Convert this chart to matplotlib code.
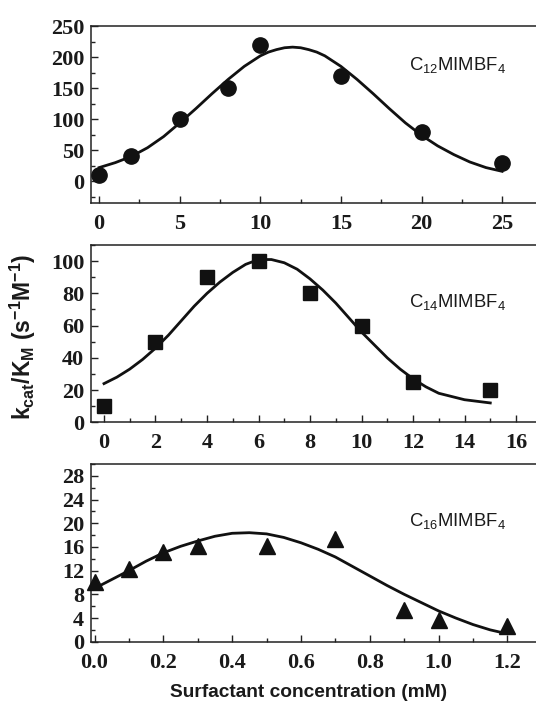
import matplotlib
matplotlib.use("Agg")
import matplotlib.pyplot as plt
from matplotlib.ticker import MultipleLocator

plt.rcParams['mathtext.fontset'] = 'custom'
plt.rcParams['mathtext.rm'] = 'Liberation Sans'
plt.rcParams['mathtext.it'] = 'Liberation Sans'
plt.rcParams['mathtext.bf'] = 'Liberation Sans:bold'

# C12MIMBF4 - measured points and fitted curve
c12_x = [0, 2, 5, 8, 10, 15, 20, 25]
c12_y = [10, 40, 100, 150, 220, 170, 80, 30]
c12_fit_x = [0, 1, 2, 3, 4, 5, 6, 7, 8, 9, 10, 10.5, 11, 11.5, 12, 12.5, 13, 13.5,
             14, 15, 16, 17, 18, 19, 20, 21, 22, 23, 24, 25]
c12_fit_y = [22, 30, 40, 54, 72, 94, 117, 141, 164, 185, 202, 208, 212, 215, 216, 215,
             212, 208, 202, 185, 164, 141, 117, 94, 74, 57, 43, 31, 22, 16]

# C14MIMBF4
c14_x = [0, 2, 4, 6, 8, 10, 12, 15]
c14_y = [10, 50, 90, 100, 80, 60, 25, 20]
c14_fit_x = [0, 0.5, 1, 1.5, 2, 2.5, 3, 3.5, 4, 4.5, 5, 5.5, 6, 6.5, 7, 7.5,
             8, 8.5, 9, 9.5, 10, 10.5, 11, 11.5, 12, 12.5, 13, 13.5, 14, 14.5, 15]
c14_fit_y = [24, 28, 33, 39, 46, 54, 63, 72, 80, 87, 93, 98, 101, 101, 99, 95,
             89, 82, 74, 65, 56, 48, 40, 33, 27, 22, 18, 16, 14, 13, 12]

# C16MIMBF4
c16_x = [0.0, 0.1, 0.2, 0.3, 0.5, 0.7, 0.9, 1.0, 1.2]
c16_y = [10.0, 12.3, 15.2, 16.2, 16.2, 17.3, 5.4, 3.6, 2.7]
c16_fit_x = [0.0, 0.05, 0.1, 0.15, 0.2, 0.25, 0.3, 0.35, 0.4, 0.45, 0.5, 0.55,
             0.6, 0.65, 0.7, 0.75, 0.8, 0.85, 0.9, 0.95, 1.0, 1.05, 1.1, 1.15, 1.18]
c16_fit_y = [9.0, 10.5, 12.0, 13.6, 15.0, 16.1, 17.0, 17.8, 18.3, 18.4, 18.2, 17.6,
             16.7, 15.6, 14.3, 12.7, 11.1, 9.5, 8.0, 6.6, 5.2, 4.0, 2.9, 2.0, 1.6]

labels = [r'C$_{12}$MIMBF$_4$', r'C$_{14}$MIMBF$_4$', r'C$_{16}$MIMBF$_4$']

fig = plt.figure(figsize=(5.36, 7.09), dpi=100)

panels = [
    dict(pos=[0.170, 0.7137, 0.86, 0.2496], x=c12_x, y=c12_y, fx=c12_fit_x, fy=c12_fit_y,
         marker='o', ms=11, xlim=(-0.5, 28.1), ylim=(-35, 250), xmaj=5, xmin=2.5,
         ymaj=50, ymin=25, xfmt='%d', label_y=0.78),
    dict(pos=[0.170, 0.4044, 0.86, 0.2500], x=c14_x, y=c14_y, fx=c14_fit_x, fy=c14_fit_y,
         marker='s', ms=9.5, xlim=(-0.5, 17.4), ylim=(0, 110), xmaj=2, xmin=1,
         ymaj=20, ymin=10, xfmt='%d', label_y=0.68),
    dict(pos=[0.170, 0.0949, 0.86, 0.2507], x=c16_x, y=c16_y, fx=c16_fit_x, fy=c16_fit_y,
         marker='^', ms=11.5, xlim=(-0.01, 1.33), ylim=(0, 30), xmaj=0.2, xmin=0.1,
         ymaj=4, ymin=2, xfmt='%.1f', label_y=0.68),
]

for p, lab in zip(panels, labels):
    ax = fig.add_axes(p['pos'])
    ax.plot(p['fx'], p['fy'], color='#111111', linewidth=2.0, zorder=2,
            solid_joinstyle='round')
    ax.plot(p['x'], p['y'], linestyle='none', marker=p['marker'], markersize=p['ms'],
            color='#111111', zorder=3, clip_on=False)
    ax.set_xlim(*p['xlim'])
    ax.set_ylim(*p['ylim'])
    ax.xaxis.set_major_locator(MultipleLocator(p['xmaj']))
    ax.xaxis.set_minor_locator(MultipleLocator(p['xmin']))
    ax.yaxis.set_major_locator(MultipleLocator(p['ymaj']))
    ax.yaxis.set_minor_locator(MultipleLocator(p['ymin']))
    ax.xaxis.set_major_formatter(matplotlib.ticker.FormatStrFormatter(p['xfmt']))
    ax.spines['right'].set_visible(False)
    for s in ['left', 'bottom', 'top']:
        ax.spines[s].set_linewidth(1.1)
        ax.spines[s].set_color('#222222')
    ax.tick_params(which='both', direction='in', top=False, right=False, color='#222222')
    ax.tick_params(which='major', length=5, width=1.0)
    ax.tick_params(which='minor', length=3, width=1.0)
    ax.tick_params(axis='x', which='major', pad=8)
    ax.tick_params(axis='y', which='major', pad=5)
    if p['ylim'][0] < 0:
        ax.set_yticks([0, 50, 100, 150, 200, 250])
    for t in ax.get_xticklabels() + ax.get_yticklabels():
        t.set_fontfamily('Liberation Serif')
        t.set_fontweight('bold')
        t.set_fontsize(16)
        t.set_color('#1a1a1a')
    ax.text(0.794, p['label_y'], lab, transform=ax.transAxes, ha='center', va='center',
            fontsize=13.3, family='Liberation Sans', color='#1a1a1a')

fig.text(0.042, 0.525, r'$\mathbf{k_{cat}/K_M\ (s^{-1}M^{-1})}$', rotation=90,
         ha='center', va='center', fontsize=16.5, color='#1a1a1a')
fig.text(0.576, 0.0226, 'Surfactant concentration (mM)', ha='center', va='center',
         fontsize=13.8, fontweight='bold', family='Liberation Sans', color='#1a1a1a')

plt.savefig('out.png', dpi=100)
